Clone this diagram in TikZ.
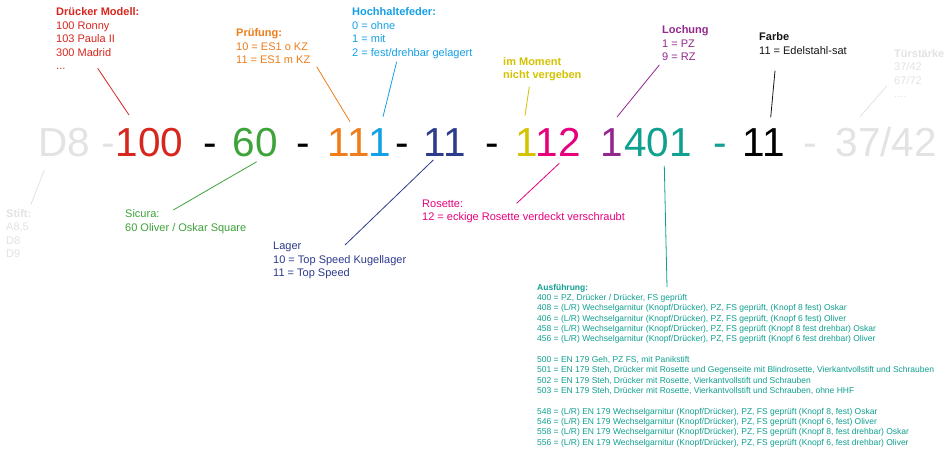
\documentclass[tikz,border=0pt]{standalone}
\usepackage{fontspec}
\setmainfont{Liberation Sans}
\usepackage{xcolor}
\usetikzlibrary{positioning}
\definecolor{cred}{HTML}{D7261E}
\definecolor{cgreen}{HTML}{3EA33A}
\definecolor{corange}{HTML}{EF7D1A}
\definecolor{cblue}{HTML}{14A0E6}
\definecolor{cnavy}{HTML}{2D3B8B}
\definecolor{cyellow}{HTML}{D5C200}
\definecolor{cpink}{HTML}{E6007E}
\definecolor{cpurple}{HTML}{93278F}
\definecolor{cteal}{HTML}{0FA08F}
\definecolor{cgray}{HTML}{E3E3E3}
\definecolor{cink}{HTML}{141414}
\tikzset{
  codepart/.style={anchor=base west,inner sep=0pt,
                   font=\fontsize{40.5}{48}\selectfont},
  tag/.style={anchor=base west,inner sep=0pt,align=left,
              font=\fontsize{11}{13.4}\selectfont},
  smalltag/.style={anchor=base west,inner sep=0pt,align=left,
                   font=\fontsize{8.5}{10.35}\selectfont},
  lead/.style={line width=0.8pt,draw=#1}
}

\begin{document}
\begin{tikzpicture}[x=1pt,y=-1pt]
    \path[use as bounding box,fill=white] (0,0) rectangle (950,452);
    % the article number
    \node[codepart,text=cgray] (dstift) at (38.5,156.7) {D8 -};
    \node[codepart,text=cred] (dmodell) at (115.6,156.7) {100};
    \node[codepart,text=black] (sepa) at (203.2,156.7) {-};
    \node[codepart,text=cgreen] (dsicura) at (232.3,156.7) {60};
    \node[codepart,text=black] (sepb) at (296.2,156.7) {-};
    \node[codepart,text=corange] (dpruef) at (327.3,156.7) {11};
    \node[codepart,text=cblue] (dfeder) at (368.6,156.7) {1};
    \node[codepart,text=black] (sepc) at (395.2,156.7) {-};
    \node[codepart,text=cnavy] (dlager) at (423.6,156.7) {11};
    \node[codepart,text=black] (sepd) at (485.2,156.7) {-};
    \node[codepart,text=cyellow] (dfrei) at (515.6,156.7) {1};
    \node[codepart,text=cpink] (drosette) at (535.6,156.7) {12};
    \node[codepart,text=cpurple] (dloch) at (600.6,156.7) {1};
    \node[codepart,text=cteal] (dausf) at (624,156.7) {401};
    \node[codepart,text=cteal] (sepe) at (713.2,156.7) {-};
    \node[codepart,text=black] (dfarbe) at (742.6,156.7) {11};
    \node[codepart,text=cgray] (sepf) at (803.2,156.7) {-};
    \node[codepart,text=cgray] (dtuer) at (835.3,156.7) {37/42};

    % labels above (placed at the baseline of their last line)
    \node[tag,text=cred] (lmodell) at (56,69.6)
      {\textbf{Drücker Modell:}\\100 Ronny\\103 Paula II\\300 Madrid\\...};
    \node[tag,text=corange] (lpruef) at (236,63.5)
      {\textbf{Prüfung:}\\10 = ES1 o KZ\\11 = ES1 m KZ};
    \node[tag,text=cblue] (lfeder) at (352,56.2)
      {\textbf{Hochhaltefeder:}\\0 = ohne\\1 = mit\\2 = fest/drehbar gelagert};
    \node[tag,text=cyellow] (lfrei) at (503,78.9)
      {\textbf{im Moment}\\\textbf{nicht vergeben}};
    \node[tag,text=cpurple] (lloch) at (662,60.5)
      {\textbf{Lochung}\\1 = PZ\\9 = RZ};
    \node[tag,text=cink] (lfarbe) at (759,54.4)
      {\textbf{Farbe}\\11 = Edelstahl-sat};
    \node[tag,text=cgray] (ltuer) at (894,97.5)
      {\textbf{Türstärke}\\37/42\\67/72\\....};

    % labels below
    \node[tag,text=cgray] (lstift) at (6,257.5)
      {\textbf{Stift:}\\A8,5\\D8\\D9};
    \node[tag,text=cgreen] (lsicura) at (125,231)
      {Sicura:\\60 Oliver / Oskar Square};
    \node[tag,text=cnavy] (llager) at (273,276.5)
      {Lager\\10 = Top Speed Kugellager\\11 = Top Speed};
    \node[tag,text=cpink] (lrosette) at (422,220.9)
      {Rosette:\\12 = eckige Rosette verdeckt verschraubt};
    \node[smalltag,text=cteal] (lausf) at (537,445.3)
      {\textbf{Ausführung:}\\
       400 = PZ, Drücker / Drücker, FS geprüft\\
       408 = (L/R) Wechselgarnitur (Knopf/Drücker), PZ, FS geprüft, (Knopf 8 fest) Oskar\\
       406 = (L/R) Wechselgarnitur (Knopf/Drücker), PZ, FS geprüft, (Knopf 6 fest) Oliver\\
       458 = (L/R) Wechselgarnitur (Knopf/Drücker), PZ, FS geprüft (Knopf 8 fest drehbar) Oskar\\
       456 = (L/R) Wechselgarnitur (Knopf/Drücker), PZ, FS geprüft (Knopf 6 fest drehbar) Oliver\\[10.35pt]
       500 = EN 179 Geh, PZ FS, mit Panikstift\\
       501 = EN 179 Steh, Drücker mit Rosette und Gegenseite mit Blindrosette, Vierkantvollstift und Schrauben\\
       502 = EN 179 Steh, Drücker mit Rosette, Vierkantvollstift und Schrauben\\
       503 = EN 179 Steh, Drücker mit Rosette, Vierkantvollstift und Schrauben, ohne HHF\\[10.35pt]
       548 = (L/R) EN 179 Wechselgarnitur (Knopf/Drücker), PZ, FS geprüft (Knopf 8, fest) Oskar\\
       546 = (L/R) EN 179 Wechselgarnitur (Knopf/Drücker), PZ, FS geprüft (Knopf 6, fest) Oliver\\
       558 = (L/R) EN 179 Wechselgarnitur (Knopf/Drücker), PZ, FS geprüft (Knopf 8, fest drehbar) Oskar\\
       556 = (L/R) EN 179 Wechselgarnitur (Knopf/Drücker), PZ, FS geprüft (Knopf 6, fest drehbar) Oliver};

    % leader lines
    \coordinate (cmodell) at (97.7,68.3);   \coordinate (tmodell) at (129,115);
    \coordinate (cpruef) at (316.7,66.7);   \coordinate (tpruef) at (350,121.7);
    \coordinate (cfeder) at (396.7,61.7);   \coordinate (tfeder) at (383,116.7);
    \coordinate (cfrei) at (529.3,86.7);    \coordinate (tfrei) at (525,115.7);
    \coordinate (cloch) at (659.3,65);      \coordinate (tloch) at (617,117);
    \coordinate (cfarbe) at (775,70.7);     \coordinate (tfarbe) at (770.7,117.3);
    \coordinate (ctuer) at (886.7,86);      \coordinate (ttuer) at (860,116.7);
    \coordinate (cstift) at (30.7,205);     \coordinate (tstift) at (44.3,170);
    \coordinate (csicura) at (173.3,210);   \coordinate (tsicura) at (256.7,161.7);
    \coordinate (clager) at (345,245);      \coordinate (tlager) at (433.3,160);
    \coordinate (crosette) at (516.7,203.3);\coordinate (trosette) at (559.3,163.3);
    \coordinate (causf) at (667,287);       \coordinate (tausf) at (664.3,166);
    \draw[lead=cred] (cmodell) -- (tmodell);
    \draw[lead=corange] (cpruef) -- (tpruef);
    \draw[lead=cblue] (cfeder) -- (tfeder);
    \draw[lead=cyellow] (cfrei) -- (tfrei);
    \draw[lead=cpurple] (cloch) -- (tloch);
    \draw[lead=cink] (cfarbe) -- (tfarbe);
    \draw[lead=cgray] (ctuer) -- (ttuer);
    \draw[lead=cgray] (cstift) -- (tstift);
    \draw[lead=cgreen] (csicura) -- (tsicura);
    \draw[lead=cnavy] (clager) -- (tlager);
    \draw[lead=cpink] (crosette) -- (trosette);
    \draw[lead=cteal] (causf) -- (tausf);
\end{tikzpicture}
\end{document}
